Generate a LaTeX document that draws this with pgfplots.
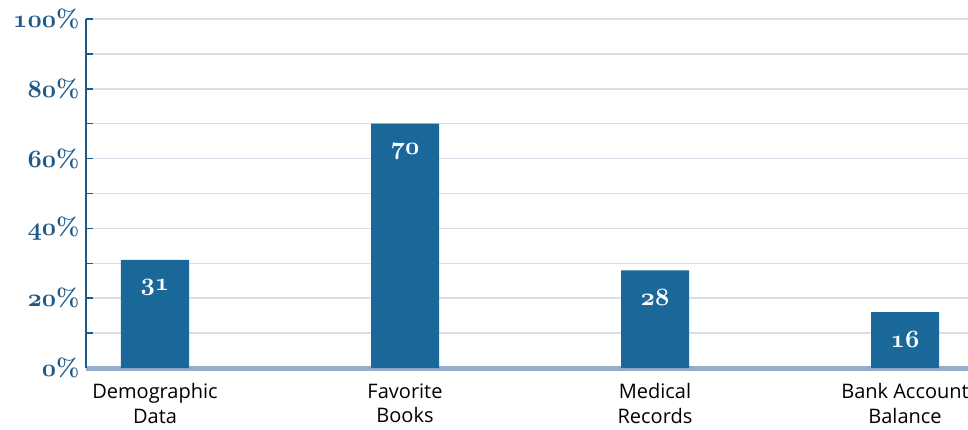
\documentclass[border=0pt]{standalone}
\usepackage{fontspec}
\usepackage{pgfplots}
\pgfplotsset{compat=1.18}
\newfontfamily\opensans{Open Sans}
% old-style figures from the bold math italic font
\newcommand\osfb{\fontencoding{OML}\fontfamily{cmm}\fontseries{b}\fontshape{it}\selectfont}
\newcommand\pct[1]{{\osfb #1}{\bfseries\%}}
\definecolor{barblue}{HTML}{1A6799}
\definecolor{inkblue}{HTML}{1D5A8C}
\definecolor{gridgray}{HTML}{D8DFEA}
\definecolor{baseblue}{HTML}{94AECB}

\begin{document}
\begin{tikzpicture}
\begin{axis}[
  scale only axis, width=882pt, height=349pt,
  xmin=-0.276, xmax=3.252, ymin=0, ymax=100,
  axis lines*=left,
  x axis line style={draw=baseblue, line width=5pt, -},
  y axis line style={draw=inkblue, line width=1.5pt, -},
  ybar, bar width=68pt,
  xtick={0,1,2,3},
  xticklabels={Demographic\\Data, Favorite\\Books, Medical\\Records, Bank Account\\Balance},
  xticklabel style={align=center, font=\opensans\fontsize{20}{24.5}\selectfont, text=black, yshift=-12pt},
  major x tick style={draw=none},
  ytick={0,20,...,100},
  minor ytick={10,30,...,90},
  yticklabels={\pct{0},\pct{20},\pct{40},\pct{60},\pct{80},\pct{100}},
  yticklabel style={font=\fontsize{24.88}{28}\selectfont, text=inkblue, xshift=-3pt},
  ytick pos=left,
  tick align=inside,
  major tick length=7pt, minor tick length=7pt,
  y tick style={draw=inkblue, line width=1.5pt},
  ymajorgrids, yminorgrids,
  major grid style={draw=gridgray, line width=1.5pt},
  minor grid style={draw=gridgray, line width=1.5pt},
  point meta=explicit symbolic,
  nodes near coords={\osfb\pgfplotspointmeta},
  nodes near coords style={text=white, anchor=north, yshift=-16pt, font=\fontsize{24.88}{28}\selectfont},
]
\addplot[fill=barblue, draw=none] coordinates {
  (0,31) [31]
  (1,70) [70]
  (2,28) [28]
  (3,16) [16]
};
\end{axis}
\pgfresetboundingbox
\path ([xshift=-86pt,yshift=-61pt]current axis.south west) rectangle ([yshift=19pt]current axis.north east);
\end{tikzpicture}
\end{document}
